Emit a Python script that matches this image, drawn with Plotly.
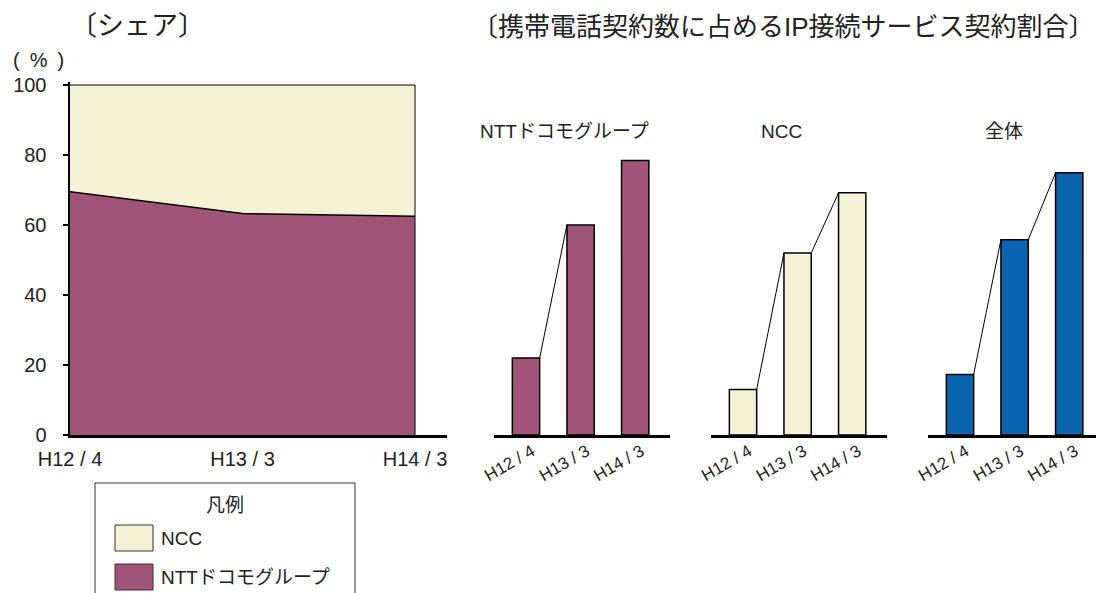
import plotly.graph_objects as go

# ---------------- data ----------------
share_periods = ["H12 / 4", "H13 / 3", "H14 / 3"]
share_ntt = [69.5, 63.3, 62.5]          # NTTドコモグループ share (%)
share_total = [100, 100, 100]

bar_periods = ["H12 / 4", "H13 / 3", "H14 / 3"]
ip_ntt = [22, 60, 78.4]
ip_ncc = [13, 52, 69.2]
ip_all = [17.3, 55.8, 74.9]

panel_titles = ["NTTドコモグループ", "NCC", "全体"]
legend_labels = ["NCC", "NTTドコモグループ"]

C_NTT = "#A05478"
C_NCC = "#F3F2D4"
C_ALL = "#0A64B0"

W, H = 1096, 593
FONT = "Liberation Sans, Arial, Noto Sans CJK JP, sans-serif"


def fx(p):
    return p / W


def fy(p):
    return 1 - p / H


# y scale: baseline at 435px, 3.5 px per unit
BASE = 435
PPU = 3.5
YMAX = 101
y_dom = [fy(BASE), fy(BASE - YMAX * PPU)]

fig = go.Figure()

# ---------------- left stacked area ----------------
xs = list(range(len(share_periods)))
fig.add_trace(go.Scatter(x=xs, y=share_ntt, mode="lines", fill="tozeroy",
                         fillcolor=C_NTT, line=dict(color="black", width=1.5),
                         xaxis="x", yaxis="y", showlegend=False, hoverinfo="skip"))
fig.add_trace(go.Scatter(x=xs, y=share_total, mode="lines", fill="tonexty",
                         fillcolor=C_NCC, line=dict(color="black", width=1),
                         xaxis="x", yaxis="y", showlegend=False, hoverinfo="skip"))
# right edge of area
fig.add_trace(go.Scatter(x=[xs[-1], xs[-1]], y=[0, share_total[-1]], mode="lines",
                         line=dict(color="black", width=1),
                         xaxis="x", yaxis="y", showlegend=False, hoverinfo="skip"))

L_LEFT, L_END, L_RIGHT = 70, 415, 447
l_ppu = (L_END - L_LEFT) / (len(xs) - 1)

# ---------------- bar panels ----------------
panels = [(ip_ntt, C_NTT, 494, 670, [True, False]),
          (ip_ncc, C_NCC, 711, 887, [True, True]),
          (ip_all, C_ALL, 928, 1096, [True, True])]
B_PPU = 54.6
B_OFF = 32
BW = 0.5

layout_axes = {}
for k, (vals, col, p0, p1, links) in enumerate(panels):
    n = k + 2
    xa, ya = f"x{n}", f"y{n}"
    bx = list(range(len(vals)))
    fig.add_trace(go.Bar(x=bx, y=vals, width=BW, marker=dict(color=col, line=dict(color="black", width=1.5)),
                         xaxis=xa, yaxis=ya, showlegend=False, hoverinfo="skip"))
    for i, on in enumerate(links):
        if on:
            fig.add_trace(go.Scatter(x=[bx[i] + BW / 2, bx[i + 1] - BW / 2], y=[vals[i], vals[i + 1]],
                                     mode="lines", line=dict(color="black", width=1),
                                     xaxis=xa, yaxis=ya, showlegend=False, hoverinfo="skip"))
    layout_axes[f"xaxis{n}"] = dict(domain=[fx(p0), fx(p1)], range=[-B_OFF / B_PPU, (p1 - p0 - B_OFF) / B_PPU],
                                    anchor=ya, showline=True, linecolor="black", linewidth=3,
                                    showgrid=False, zeroline=False, ticks="", automargin=False,
                                    tickvals=bx, ticktext=bar_periods, tickangle=-30,
                                    tickfont=dict(size=17, color="#222"),
                                    ticklabelstandoff=-3, ticklabelshift=6)
    layout_axes[f"yaxis{n}"] = dict(domain=y_dom, range=[0, YMAX], anchor=xa, visible=False,
                                    automargin=False)

fig.update_layout(
    width=W, height=H, margin=dict(l=0, r=0, t=0, b=0, autoexpand=False),
    paper_bgcolor="white", plot_bgcolor="rgba(0,0,0,0)",
    font=dict(family=FONT, color="#222"),
    showlegend=False,
    xaxis=dict(domain=[fx(L_LEFT), fx(L_RIGHT)], range=[0, (L_RIGHT - L_LEFT) / l_ppu],
               showline=True, linecolor="black", linewidth=3, showgrid=False, zeroline=False,
               ticks="", tickvals=xs, ticktext=share_periods, tickfont=dict(size=20),
               ticklabelstandoff=4, automargin=False),
    yaxis=dict(domain=y_dom, range=[0, YMAX], showline=True, linecolor="black", linewidth=2.5,
               showgrid=False, zeroline=False, ticks="outside", ticklen=5, tickwidth=2,
               tickcolor="black", tickvals=[0, 20, 40, 60, 80, 100], tickfont=dict(size=20),
               ticklabelstandoff=12, automargin=False),
    **layout_axes,
)

ann = []


def text(x, y, s, size, anchor="center"):
    ann.append(dict(x=fx(x), y=fy(y), xref="paper", yref="paper", text=s, showarrow=False,
                    xanchor=anchor, yanchor="middle", font=dict(size=size, family=FONT, color="#222")))


text(137, 26, "〔シェア〕", 27)
text(38, 60, "(\u2002%\u2002)", 20)
text(783, 27, "〔携帯電話契約数に占めるIP接続サービス契約割合〕", 26)
text(564, 131, panel_titles[0], 19)
text(781, 131, panel_titles[1], 19)
text(1004, 131, panel_titles[2], 19)

# legend (drawn)
shapes = [dict(type="rect", xref="paper", yref="paper", x0=fx(95), x1=fx(355), y0=fy(620), y1=fy(483),
               line=dict(color="#333", width=1), fillcolor="rgba(0,0,0,0)")]
for i, (lab, col) in enumerate(zip(legend_labels, [C_NCC, C_NTT])):
    top = 525 + i * 39
    shapes.append(dict(type="rect", xref="paper", yref="paper", x0=fx(115), x1=fx(153),
                       y0=fy(top + 26), y1=fy(top), line=dict(color="#333", width=1), fillcolor=col))
    text(159, top + 13, lab, 19, anchor="left")
text(225, 505, "凡例", 19)

fig.update_layout(annotations=ann, shapes=shapes)
fig.write_html("out.html", config={"displayModeBar": False, "staticPlot": True},
               post_script="document.body.style.margin='0';document.body.style.overflow='hidden';")
